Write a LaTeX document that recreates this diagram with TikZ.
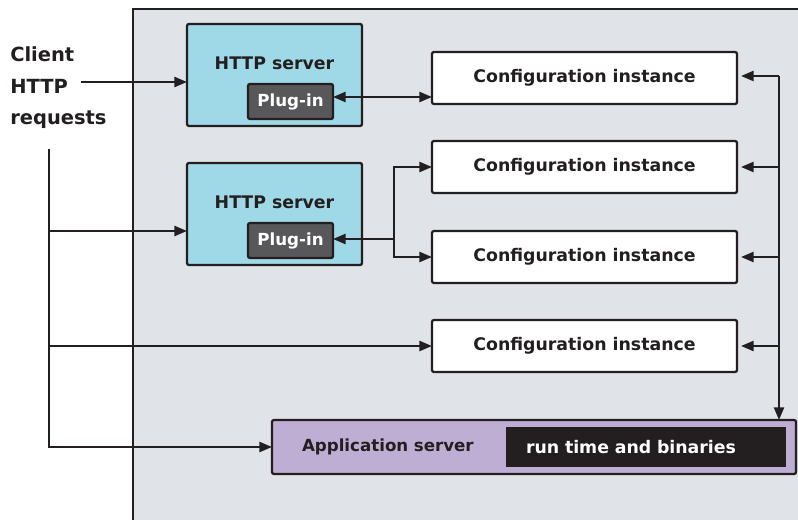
\documentclass[tikz,border=0pt]{standalone}
\usepackage{fontspec}
\setmainfont{DejaVu Sans}
\usetikzlibrary{arrows.meta,calc}
\definecolor{ink}{HTML}{231F20}
\definecolor{panelgray}{HTML}{E0E3E7}
\definecolor{httpblue}{HTML}{9FD8E6}
\definecolor{plugray}{HTML}{58585A}
\definecolor{applilac}{HTML}{BFAED3}
\tikzset{
  tip/.tip={Triangle[length=9.5pt,width=7.5pt]},
  conn/.style={draw=ink, line width=1.8pt, -tip},
  box/.style={draw=ink, line width=1.7pt, rounded corners=1.5pt, inner sep=0pt, outer sep=0pt},
  httpbox/.style={box, fill=httpblue, minimum width=131.25pt, minimum height=76.5pt},
  plugbox/.style={box, fill=plugray, minimum width=63.75pt, minimum height=26.25pt,
    text=white, font=\bfseries\fontsize{12.5}{14}\selectfont},
  cfgbox/.style={box, fill=white, minimum width=228.75pt, minimum height=39pt,
    text=ink, font=\bfseries\fontsize{13}{15}\selectfont},
  hlabel/.style={text=ink, inner sep=0pt, font=\bfseries\fontsize{13}{15}\selectfont},
  clabel/.style={text=ink, inner sep=0pt, anchor=base west, font=\bfseries\fontsize{14.6}{17}\selectfont},
}
\begin{document}
\begin{tikzpicture}[x=0.75pt, y=-0.75pt]
  \useasboundingbox (0,0) rectangle (798,520);
  \clip (0,0) rectangle (798,520);
  \fill[white] (0,0) rectangle (798,520);

  % outer panel
  \draw[draw=ink, line width=2pt, fill=panelgray] (133,9) rectangle (820,540);

  % client label
  \node[clabel] (cl1) at (10,62) {Client};
  \node[clabel] (cl2) at (10,94) {HTTP};
  \node[clabel] (cl3) at (10,125) {requests};

  % HTTP servers with plug-ins
  \node[httpbox] (hs1) at (274.5,75) {};
  \node[hlabel] (hl1) at (274.5,63) {HTTP server};
  \node[plugbox] (pl1) at (290.5,101.5) {Plug-in};

  \node[httpbox] (hs2) at (274.5,214) {};
  \node[hlabel] (hl2) at (274.5,202) {HTTP server};
  \node[plugbox] (pl2) at (290.5,240.5) {Plug-in};

  % configuration instances
  \node[cfgbox] (cfg1) at (584.5,78) {Configuration instance};
  \node[cfgbox] (cfg2) at (584.5,167) {Configuration instance};
  \node[cfgbox] (cfg3) at (584.5,257) {Configuration instance};
  \node[cfgbox] (cfg4) at (584.5,346) {Configuration instance};

  % application server
  \node[box, fill=applilac, minimum width=393pt, minimum height=40.5pt,
        text width=348pt, inner xsep=22.5pt, align=left, text=ink,
        font=\bfseries\fontsize{12.5}{14}\selectfont] (app) at (534,447) {Application server};
  \node[draw=none, fill=ink, minimum width=210pt, minimum height=30pt,
        text width=180pt, inner xsep=15pt, inner ysep=0pt, align=left, text=white,
        font=\bfseries\fontsize{13}{15}\selectfont] (rt) at (646,447) {run time and binaries};

  % client request paths
  \coordinate (c0) at (81,82);
  \draw[conn] (c0) -- (c0 -| hs1.west);
  \coordinate (bt) at (49,149);
  \coordinate (b2) at (49,231);
  \draw[conn] (bt) |- (app.west);
  \draw[conn] (b2) -- (b2 -| hs2.west);
  \draw[conn] (bt |- cfg4.west) -- (cfg4.west);

  % plug-in to configuration links
  \coordinate (r1) at (0,97);
  \draw[conn, tip-tip] (pl1.east |- r1) -- (cfg1.west |- r1);
  \coordinate (br) at (394,239);
  \draw[conn] (br) -- (br -| pl2.east);
  \draw[conn] (br) |- (cfg2.west);
  \draw[conn] (br) |- (cfg3.west);

  % shared runtime bus on the right
  \coordinate (rb) at (779,76);
  \draw[conn, shorten >=3pt] (rb) -- (rb -| cfg1.east);
  \draw[conn] (rb) -- (rb |- app.north);
  \draw[conn, shorten >=3pt] (rb |- cfg2.east) -- (cfg2.east);
  \draw[conn, shorten >=3pt] (rb |- cfg3.east) -- (cfg3.east);
  \draw[conn, shorten >=3pt] (rb |- cfg4.east) -- (cfg4.east);
\end{tikzpicture}
\end{document}
